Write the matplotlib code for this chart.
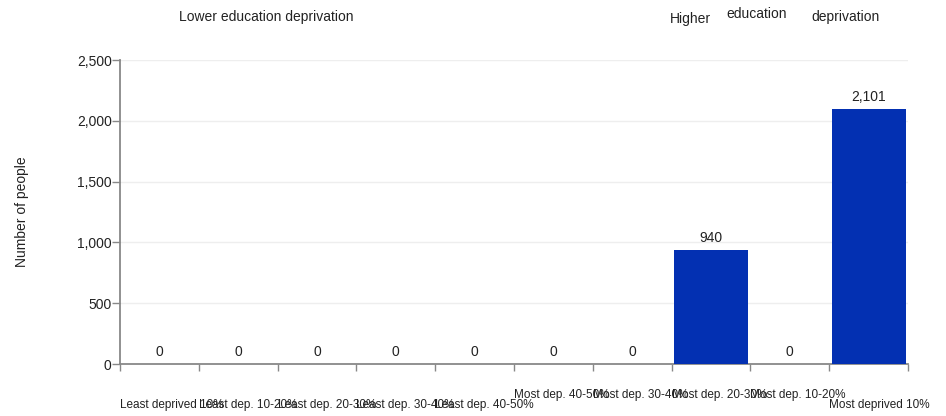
import matplotlib
matplotlib.use("Agg")
import matplotlib.pyplot as plt
import matplotlib.transforms as mtransforms
from matplotlib.ticker import FuncFormatter

plt.rcParams['font.family'] = ['Liberation Sans', 'DejaVu Sans']

categories = ["Least deprived 10%", "Least dep. 10-20%", "Least dep. 20-30%",
              "Least dep. 30-40%", "Least dep. 40-50%", "Most dep. 40-50%",
              "Most dep. 30-40%", "Most dep. 20-30%", "Most dep. 10-20%",
              "Most deprived 10%"]
values = [0, 0, 0, 0, 0, 0, 0, 940, 0, 2101]
label_low = [True, True, True, True, True, False, False, False, False, True]
yticks = [0, 500, 1000, 1500, 2000, 2500]

W, H = 946, 416
fig = plt.figure(figsize=(W/100, H/100), dpi=100)
L, R, T, B = 120, 908, 60, 364
ax = fig.add_axes([L/W, 1 - B/H, (R-L)/W, (B-T)/H])

txt = "#222222"
n = len(categories)
xs = list(range(n))
bar_color = "#0330B2"
ax.bar(xs, values, width=0.94, color=bar_color, zorder=3)
for x, v in zip(xs, values):
    ax.text(x, v + 40, f"{v:,}", ha="center", va="bottom", fontsize=10, color=txt)

ax.set_xlim(-0.5, n - 0.5)
ax.set_ylim(0, 2500)
ax.set_yticks(yticks)
ax.yaxis.set_major_formatter(FuncFormatter(lambda v, p: f"{int(v):,}"))
ax.set_xticks([i - 0.5 for i in range(n + 1)])
ax.set_xticklabels([])
ax.tick_params(axis="x", length=5, color="#888888", width=1)
ax.tick_params(axis="y", length=6, color="#888888", width=1, labelsize=10, pad=0, labelcolor=txt)
ax.grid(axis="y", color="#eeeeee", linewidth=1, zorder=0)
for s in ["top", "right"]:
    ax.spines[s].set_visible(False)
for s in ["left", "bottom"]:
    ax.spines[s].set_color("#888888")
    ax.spines[s].set_linewidth(1.3)

# category labels, left-aligned at left boundary of each category
tr = mtransforms.blended_transform_factory(ax.transData, fig.transFigure)
for i, (c, low) in enumerate(zip(categories, label_low)):
    ypix = 405 if low else 395
    ax.text(i - 0.5, 1 - ypix/H, c, transform=tr,
            ha="left", va="center", fontsize=8.5, color=txt)

fig.text(22/W, 1 - 212/H, "Number of people", rotation=90, ha="center", va="center",
         fontsize=10, color=txt)

fig.text(266/W, 1 - 17/H, "Lower education deprivation", ha="center", va="center", fontsize=10, color=txt)
fig.text(690/W, 1 - 19/H, "Higher", ha="center", va="center", fontsize=10, color=txt)
fig.text(757/W, 1 - 14/H, "education", ha="center", va="center", fontsize=10, color=txt)
fig.text(845/W, 1 - 17/H, "deprivation", ha="center", va="center", fontsize=10, color=txt)

fig.savefig("out.png", dpi=100)
